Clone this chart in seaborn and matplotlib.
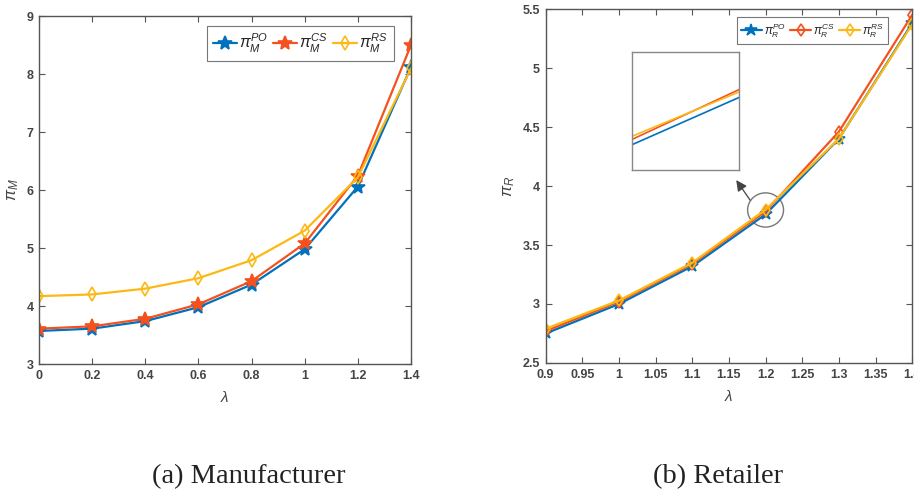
import numpy as np
import matplotlib
matplotlib.use("Agg")
import matplotlib.pyplot as plt
from matplotlib.patches import Ellipse
import seaborn as sbn

# manufacturer profit vs lambda
lam_m = [0, 0.2, 0.4, 0.6, 0.8, 1.0, 1.2, 1.4]
pi_m_po = [3.57, 3.61, 3.74, 3.98, 4.37, 4.98, 6.06, 8.12]
pi_m_cs = [3.61, 3.65, 3.78, 4.03, 4.43, 5.08, 6.25, 8.50]
pi_m_rs = [4.17, 4.20, 4.30, 4.48, 4.79, 5.30, 6.22, 8.10]

# retailer profit vs lambda
lam_r = [0.9, 1.0, 1.1, 1.2, 1.3, 1.4]
pi_r_po = [2.75, 3.00, 3.32, 3.76, 4.40, 5.38]
pi_r_cs = [2.77, 3.02, 3.34, 3.785, 4.46, 5.45]
pi_r_rs = [2.79, 3.03, 3.35, 3.80, 4.40, 5.37]

labels_m = [r'$\pi_M^{PO}$', r'$\pi_M^{CS}$', r'$\pi_M^{RS}$']
labels_r = [r'$\pi_R^{PO}$', r'$\pi_R^{CS}$', r'$\pi_R^{RS}$']
colors = ['#0072BD', '#F4511E', '#FDB813']

sbn.set_style('white')
plt.rcParams.update({
    "font.family": ["Liberation Sans", "DejaVu Sans"],
    "mathtext.fontset": "custom",
    "mathtext.it": "Liberation Sans:italic",
    "mathtext.rm": "Liberation Sans",
    "font.size": 9})

fig = plt.figure(figsize=(9.14, 4.95), dpi=100)
ax1 = fig.add_axes([0.0427, 0.2646, 0.407, 0.703])
ax2 = fig.add_axes([0.597, 0.2667, 0.401, 0.715])


def style_axes(ax):
    for s in ax.spines.values():
        s.set_color('#555555')
        s.set_linewidth(1.0)
    ax.tick_params(direction='in', length=4, width=0.8, color='#555555',
                   labelcolor='#444444', labelsize=9, top=True, right=True,
                   bottom=True, left=True, pad=4)
    for t in ax.get_xticklabels() + ax.get_yticklabels():
        t.set_fontweight('bold')


# (a) manufacturer
for ys, lab, c, mk in zip([pi_m_po, pi_m_cs, pi_m_rs], labels_m, colors, ['*', '*', 'd']):
    sbn.lineplot(x=lam_m, y=ys, ax=ax1, color=c, marker=mk, markersize=10 if mk == '*' else 7,
                 markerfacecolor=c if mk == '*' else 'none', markeredgecolor=c,
                 markeredgewidth=1.2, linewidth=1.6, label=lab)
ax1.set_xlim(0, 1.4)
ax1.set_ylim(3, 9)
ax1.set_xticks(np.arange(0, 1.41, 0.2))
ax1.set_xticklabels(['0', '0.2', '0.4', '0.6', '0.8', '1', '1.2', '1.4'])
ax1.set_yticks(range(3, 10))
ax1.set_xlabel(r'$\lambda$', fontsize=11, color='#444444', labelpad=6)
ax1.set_ylabel(r'$\pi_M$', fontsize=12, color='#444444', labelpad=4)
style_axes(ax1)
leg1 = ax1.legend(loc='upper right', ncol=3, fontsize=11.5, handlelength=1.5,
                  handletextpad=0.15, columnspacing=0.3, borderpad=0.35,
                  borderaxespad=0, fancybox=False, bbox_to_anchor=(0.954, 0.971))
leg1.get_frame().set_edgecolor('#555555')
leg1.get_frame().set_linewidth(0.8)

# (b) retailer
for ys, lab, c, mk in zip([pi_r_po, pi_r_cs, pi_r_rs], labels_r, colors, ['*', 'd', 'd']):
    sbn.lineplot(x=lam_r, y=ys, ax=ax2, color=c, marker=mk, markersize=9 if mk == '*' else 6,
                 markerfacecolor=c if mk == '*' else 'none', markeredgecolor=c,
                 markeredgewidth=1.2, linewidth=1.6, label=lab)
ax2.set_xlim(0.9, 1.4)
ax2.set_ylim(2.5, 5.5)
ax2.set_xticks(np.arange(0.9, 1.401, 0.05))
ax2.set_xticklabels(['0.9', '0.95', '1', '1.05', '1.1', '1.15', '1.2', '1.25', '1.3', '1.35', '1.4'])
ax2.set_yticks(np.arange(2.5, 5.51, 0.5))
ax2.set_yticklabels(['2.5', '3', '3.5', '4', '4.5', '5', '5.5'])
ax2.set_xlabel(r'$\lambda$', fontsize=11, color='#444444', labelpad=6)
ax2.set_ylabel(r'$\pi_R$', fontsize=12, color='#444444', labelpad=4)
style_axes(ax2)
leg2 = ax2.legend(loc='upper right', ncol=3, fontsize=8.5, handlelength=1.8,
                  handletextpad=0.15, columnspacing=0.35, borderpad=0.35,
                  borderaxespad=0, fancybox=False, bbox_to_anchor=(0.934, 0.977))
leg2.get_frame().set_edgecolor('#555555')
leg2.get_frame().set_linewidth(0.8)

# zoom circle + arrow
ax2.add_patch(Ellipse((1.2, 3.797), 0.049, 0.29, fill=False, edgecolor='#777777', linewidth=1.0))
ax2.annotate('', xy=(1.160, 4.05), xytext=(1.179, 3.88),
             arrowprops=dict(arrowstyle='-|>', color='#444444', lw=0.9,
                             mutation_scale=16, shrinkA=0, shrinkB=0))

# inset
axin = fig.add_axes([0.6915, 0.6566, 0.117, 0.2384])
for ys, c in zip([pi_r_po, pi_r_cs, pi_r_rs], colors):
    sbn.lineplot(x=lam_r, y=ys, ax=axin, color=c, linewidth=1.2)
axin.set_xlim(1.2, 1.235)
axin.set_ylim(3.64, 4.20)
axin.set_xticks([])
axin.set_yticks([])
for s in axin.spines.values():
    s.set_color('#888888')
    s.set_linewidth(1.0)

# captions
fig.text(0.272, 0.024, '(a) Manufacturer', fontsize=20.5, family='Liberation Serif',
         ha='center', va='baseline', color='#222222')
fig.text(0.786, 0.024, '(b) Retailer', fontsize=20.5, family='Liberation Serif',
         ha='center', va='baseline', color='#222222')

plt.savefig('out.png', dpi=100)
